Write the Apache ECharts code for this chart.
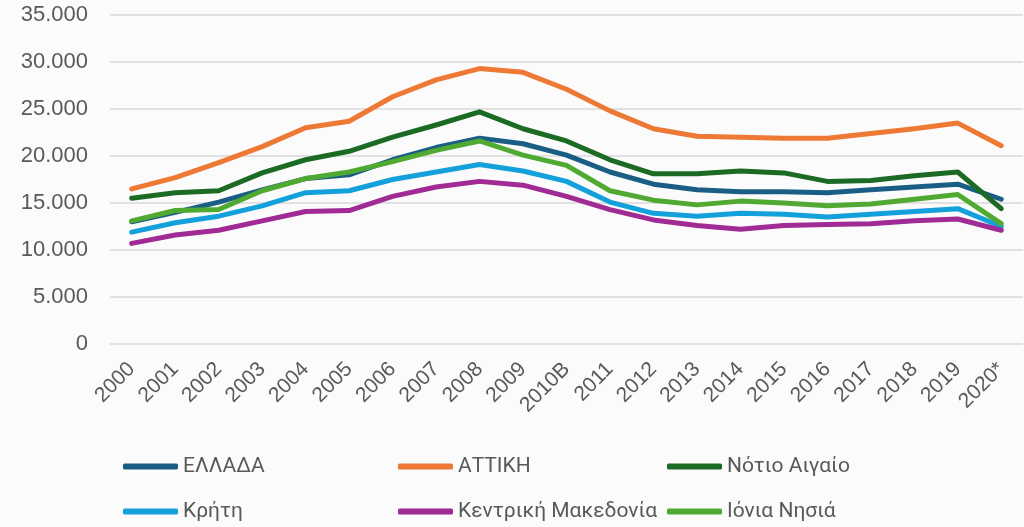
<!DOCTYPE html>
<html>
<head>
<meta charset="utf-8">
<script src="https://cdn.jsdelivr.net/npm/echarts@6/dist/echarts.min.js"></script>
<style>
  html, body { margin: 0; padding: 0; background: #fbfbfb; }
  #chart { width: 1024px; height: 527px; }
</style>
</head>
<body>
<div id="chart"></div>
<script>
// κατηγορίες (έτη)
const years = ['2000', '2001', '2002', '2003', '2004', '2005', '2006', '2007', '2008', '2009', '2010B',
  '2011', '2012', '2013', '2014', '2015', '2016', '2017', '2018', '2019', '2020*'];

const seriesNames = ['ΕΛΛΑΔΑ', 'ΑΤΤΙΚΗ', 'Νότιο Αιγαίο', 'Κρήτη', 'Κεντρική Μακεδονία', 'Ιόνια Νησιά'];

const ellada = [13000, 14000, 15100, 16400, 17600, 18000, 19600, 20900, 21900, 21300, 20100,
  18300, 17000, 16400, 16200, 16200, 16100, 16400, 16700, 17000, 15400];
const attiki = [16500, 17700, 19300, 21000, 23000, 23700, 26300, 28100, 29300, 28900, 27100,
  24800, 22900, 22100, 22000, 21900, 21900, 22400, 22900, 23500, 21100];
const notioAigaio = [15500, 16100, 16300, 18200, 19600, 20500, 22000, 23300, 24700, 22900, 21600,
  19600, 18100, 18100, 18400, 18200, 17300, 17400, 17900, 18300, 14400];
const kriti = [11900, 12900, 13600, 14700, 16100, 16300, 17500, 18300, 19100, 18400, 17300,
  15100, 13900, 13600, 13900, 13800, 13500, 13800, 14100, 14400, 12500];
const kentrikiMakedonia = [10700, 11600, 12100, 13100, 14100, 14200, 15700, 16700, 17300, 16900, 15700,
  14300, 13200, 12600, 12200, 12600, 12700, 12800, 13100, 13300, 12100];
const ioniaNisia = [13100, 14200, 14300, 16300, 17600, 18300, 19400, 20600, 21600, 20100, 19000,
  16300, 15300, 14800, 15200, 15000, 14700, 14900, 15400, 15900, 12800];

const yTicks = [0, 5000, 10000, 15000, 20000, 25000, 30000, 35000];

const colors = ['#1b5e85', '#ee7935', '#1b6b24', '#14a0db', '#a02b94', '#50aa31'];
const allData = [ellada, attiki, notioAigaio, kriti, kentrikiMakedonia, ioniaNisia];

const fmt = (v) => v.toString().replace(/\B(?=(\d{3})+(?!\d))/g, '.');

// θέσεις υπομνήματος
const legendPos = [
  [123, 456], [398, 456], [667, 456],
  [123, 501], [398, 501], [667, 501]
];

const myChart = echarts.init(document.getElementById('chart'));
myChart.setOption({
  backgroundColor: '#fbfbfb',
  animation: false,
  color: colors,
  grid: { left: 110, right: 1, top: 15, bottom: 183 },
  legend: seriesNames.map((n, i) => ({
    data: [n],
    left: legendPos[i][0],
    top: legendPos[i][1],
    icon: 'roundRect',
    itemWidth: 55,
    itemHeight: 6,
    itemGap: 0,
    padding: 0,
    textStyle: { color: '#595959', fontSize: 21, fontFamily: 'Roboto' }
  })),
  xAxis: {
    type: 'category',
    data: years,
    boundaryGap: true,
    axisLine: { show: false },
    axisTick: { show: false },
    axisLabel: {
      rotate: 45,
      interval: 0,
      margin: 22,
      color: '#595959',
      fontSize: 21,
      fontFamily: 'Liberation Sans'
    }
  },
  yAxis: {
    type: 'value',
    min: yTicks[0],
    max: yTicks[yTicks.length - 1],
    interval: 5000,
    axisLine: { show: false },
    axisTick: { show: false },
    splitLine: { lineStyle: { color: '#d9d9d9', width: 1.5 } },
    axisLabel: {
      margin: 22,
      color: '#595959',
      fontSize: 22,
      fontFamily: 'Liberation Sans',
      formatter: (v) => fmt(v)
    }
  },
  series: seriesNames.map((n, i) => ({
    name: n,
    type: 'line',
    data: allData[i],
    showSymbol: false,
    symbol: 'none',
    lineStyle: { width: 5, color: colors[i], cap: 'round', join: 'round' },
    itemStyle: { color: colors[i] }
  }))
});
window.onresize = function () {
  myChart.resize();
};
</script>
</body>
</html>
